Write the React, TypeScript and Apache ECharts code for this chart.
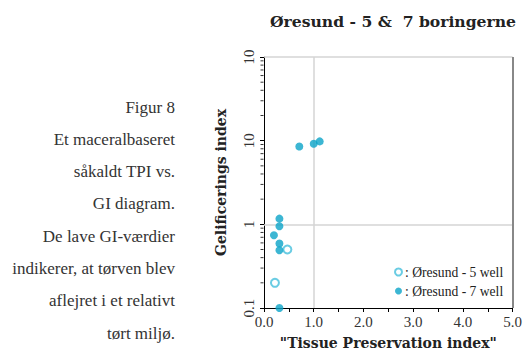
import React, { useEffect, useRef } from "react";
import * as echarts from "echarts";

const titleText = "Øresund - 5 &  7 boringerne";
const xName = '"Tissue Preservation index"';
const yName = "Gelificerings index";
const seriesNames = [": Øresund - 5 well", ": Øresund - 7 well"];

// [TPI, GI]
const well5: number[][] = [
  [0.47, 0.5],
  [0.22, 0.2],
];
const well7: number[][] = [
  [0.71, 8.5],
  [1.0, 9.2],
  [1.12, 9.8],
  [0.31, 1.17],
  [0.31, 0.95],
  [0.2, 0.74],
  [0.31, 0.59],
  [0.31, 0.49],
  [0.31, 0.1],
];

const yMinorTicks = [
  0.2, 0.3, 0.4, 0.5, 0.6, 0.7, 0.8, 0.9,
  2, 3, 4, 5, 6, 7, 8, 9,
  20, 30, 40, 50, 60, 70, 80, 90,
];
const yTickLabels: Record<string, string> = { "0.1": "0.1", "1": "1", "10": "10", "100": "10" };
const refX = [1];
const refY = [1, 100];
const borderX = [5];

const caption = [
  "Figur 8",
  "Et maceralbaseret",
  "såkaldt TPI vs.",
  "GI diagram.",
  "De lave GI-værdier",
  "indikerer, at tørven blev",
  "aflejret i et relativt",
  "tørt miljø.",
];

const SERIF = "'Liberation Serif', 'DejaVu Serif', serif";
const BOLD_SERIF = "'DejaVu Serif', serif";
const COLOR = "#0ba4c8";
const COLOR_OPEN = "#45bfdc";

export default function App() {
  const ref = useRef<HTMLDivElement>(null);
  useEffect(() => {
    if (!ref.current) return;
    const chart = echarts.init(ref.current, null, { renderer: "svg" });
    chart.setOption({
      animation: false,
      backgroundColor: "#fff",
      title: {
        text: titleText,
        left: 388,
        textAlign: "center",
        top: 8,
        textStyle: { fontFamily: BOLD_SERIF, fontWeight: "bold", fontSize: 15.6, color: "#222" },
      },
      graphic: caption.map((t, i) => ({
        type: "text",
        x: 175,
        y: 107 + i * 32.3,
        style: {
          text: t,
          textAlign: "right",
          textVerticalAlign: "middle",
          font: `17px ${SERIF}`,
          fill: "#333",
        },
      })),
      legend: {
        orient: "vertical",
        left: 389,
        top: 260,
        itemWidth: 7,
        itemHeight: 7,
        itemGap: 5,
        textStyle: { fontFamily: SERIF, fontSize: 13.6, color: "#222", padding: [0, 0, 0, -2] },
        data: seriesNames,
      },
      grid: { left: 264, right: 11, top: 57, bottom: 45 },
      xAxis: {
        type: "value",
        min: 0,
        max: 5,
        interval: 1,
        name: xName,
        nameLocation: "middle",
        nameGap: 28,
        nameTextStyle: { fontFamily: BOLD_SERIF, fontWeight: "bold", fontSize: 14, color: "#222" },
        axisLine: { lineStyle: { color: "#000", width: 1 } },
        axisTick: { show: true, length: 4, lineStyle: { color: "#000" } },
        minorTick: { show: true, splitNumber: 2, length: 4, lineStyle: { color: "#000" } },
        splitLine: { show: false },
        axisLabel: {
          fontFamily: SERIF,
          fontSize: 15,
          color: "#333",
          margin: 6,
          formatter: (v: number) => v.toFixed(1),
        },
      },
      yAxis: {
        type: "log",
        logBase: 10,
        min: 0.1,
        max: 100,
        name: yName,
        nameLocation: "middle",
        nameGap: 36,
        nameTextStyle: { fontFamily: BOLD_SERIF, fontWeight: "bold", fontSize: 14, color: "#222" },
        axisLine: { show: true, lineStyle: { color: "#000", width: 1 } },
        axisTick: { show: true, length: 4, lineStyle: { color: "#000" } },
        splitLine: { show: false },
        axisLabel: {
          fontFamily: SERIF,
          fontSize: 15,
          color: "#333",
          rotate: 90,
          margin: 8,
          formatter: (v: number) => yTickLabels[String(+v.toPrecision(3))] ?? String(v),
        },
      },
      series: [
        {
          name: "refs",
          type: "scatter",
          data: [],
          silent: true,
          markLine: {
            silent: true,
            symbol: "none",
            label: { show: false },
            lineStyle: { type: "solid", color: "#d4d4d4", width: 1.5 },
            data: [
              ...refX.map((v) => ({ xAxis: v })),
              ...refY.map((v) => ({ yAxis: v })),
              ...borderX.map((v) => ({ xAxis: v, lineStyle: { color: "#888", width: 2 } })),
            ],
          },
        },
        {
          name: "yminor",
          type: "scatter",
          data: yMinorTicks.map((v) => [0, v]),
          symbol: "rect",
          symbolSize: [3, 1],
          symbolOffset: [-2, 0],
          itemStyle: { color: "#000" },
          silent: true,
          clip: false,
        },
        {
          name: seriesNames[0],
          type: "scatter",
          data: well5,
          symbol: "emptyCircle",
          symbolSize: 8,
          itemStyle: { color: COLOR_OPEN, borderColor: COLOR_OPEN, borderWidth: 1 },
          clip: false,
          z: 5,
        },
        {
          name: seriesNames[1],
          type: "scatter",
          data: well7,
          symbol: "circle",
          symbolSize: 8,
          itemStyle: { color: COLOR },
          clip: false,
          z: 5,
        },
      ],
    });
    return () => chart.dispose();
  }, []);
  return <div ref={ref} style={{ width: 525, height: 355, position: "absolute", left: 0, top: 0 }} />;
}
